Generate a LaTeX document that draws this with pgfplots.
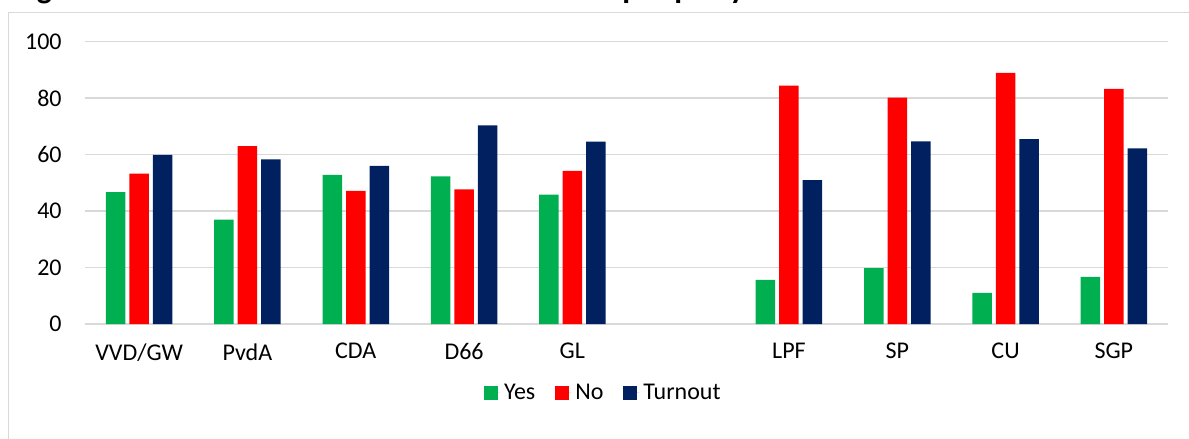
\documentclass[border=0pt]{standalone}
\usepackage{fontspec}
\setmainfont{Carlito}
\usepackage{pgfplots}
\pgfplotsset{compat=1.18}

\definecolor{yesgreen}{HTML}{00B050}
\definecolor{nored}{HTML}{FF0000}
\definecolor{turnoutblue}{HTML}{002060}
\definecolor{gridgray}{HTML}{D9D9D9}

\begin{document}
\begin{tikzpicture}
\path[use as bounding box] (0,0) rectangle (594.5pt,-219.5pt);
% chart frame and (cut-off) title
\begin{scope}
  \clip (0,0) rectangle (594.5pt,-219.5pt);
  \draw[gridgray, line width=0.75pt] (4.25pt,-6.35pt) rectangle (650pt,-260pt);
  \node[anchor=base west, inner sep=0pt, font=\bfseries\fontsize{16}{19}\selectfont]
    at (7pt,0.75pt) {Figure 1: Referendum vote share and turnout per party};
\end{scope}
\begin{axis}[
    at={(42.5pt,-162pt)}, anchor=south west,
    scale only axis,
    width=541.5pt, height=141.15pt,
    ybar=2pt, bar width=9.75pt,
    xmin=-0.5, xmax=9.5,
    ymin=0, ymax=100,
    ytick={0,20,...,100},
    xtick={0,1,2,3,4,6,7,8,9},
    xticklabels={VVD/GW,PvdA,CDA,D66,GL,LPF,SP,CU,SGP},
    axis lines=left,
    axis line style={draw=none},
    major tick length=0pt,
    tick style={draw=none},
    ymajorgrids,
    grid style={gridgray, line width=0.75pt},
    tick label style={font=\fontsize{12}{14}\selectfont, black},
    /pgf/number format/assume math mode=true,
    yticklabel style={anchor=east, inner sep=0pt, xshift=-11.5pt},
    xticklabel style={anchor=north, inner sep=0pt, yshift=-9.5pt},
    legend image code/.code={
        \path (0pt,0pt) -- (8pt,0pt);
        \fill[#1] (0pt,-3.5pt) rectangle (6.75pt,3.5pt);},
    legend style={at={(0.4795,-0.244)}, anchor=center, draw=none,
        legend columns=3, font=\fontsize{12}{14}\selectfont,
        /tikz/every even column/.append style={column sep=8pt}},
]

% Yes
\addplot[fill=yesgreen, draw=none] coordinates {
    (0,46.7) (1,37.0) (2,52.8) (3,52.3) (4,45.8)
    (6,15.6) (7,19.8) (8,11.0) (9,16.7)
};
\addlegendentry{Yes}

% No
\addplot[fill=nored, draw=none] coordinates {
    (0,53.3) (1,63.0) (2,47.2) (3,47.7) (4,54.2)
    (6,84.4) (7,80.2) (8,89.0) (9,83.3)
};
\addlegendentry{No}

% Turnout
\addplot[fill=turnoutblue, draw=none] coordinates {
    (0,59.9) (1,58.3) (2,56.0) (3,70.4) (4,64.6)
    (6,51.0) (7,64.7) (8,65.5) (9,62.2)
};
\addlegendentry{Turnout}

\end{axis}
\end{tikzpicture}
\end{document}
